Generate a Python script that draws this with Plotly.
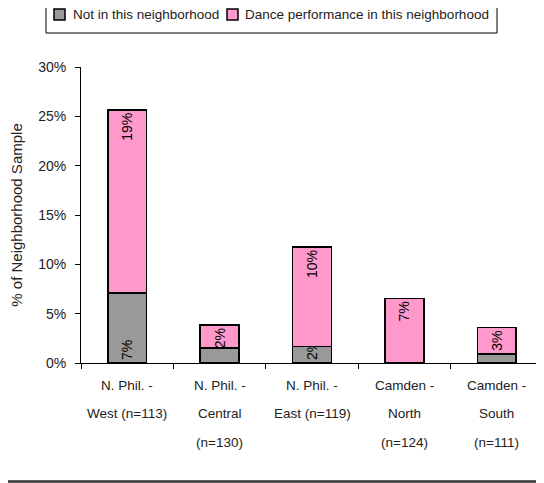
import plotly.graph_objects as go

categories = ["West", "Central", "East", "North", "South"]
label_lines = [
    ["N. Phil. -", "West (n=113)"],
    ["N. Phil. -", "Central", "(n=130)"],
    ["N. Phil. -", "East (n=119)"],
    ["Camden -", "North", "(n=124)"],
    ["Camden -", "South", "(n=111)"],
]
series_names = ["Not in this neighborhood", "Dance performance in this neighborhood"]
series_colors = ["#999999", "#FF99CC"]
not_here = [7.08, 1.54, 1.68, 0.0, 0.90]
dance_here = [18.58, 2.31, 10.08, 6.55, 2.70]
not_here_labels = ["7%", "", "2%", "", ""]
dance_here_labels = ["19%", "2%", "10%", "7%", "3%"]
y_ticks = [0, 5, 10, 15, 20, 25, 30]

FONT = "Liberation Sans, Arial, sans-serif"
TXT = "#222222"

# figure geometry (px)
W, H = 544, 483
ML, MT, PW, PH = 73, 59, 462, 296
MR, MB = W - ML - PW, H - MT - PH


def px_x(fx):
    return (fx - ML) / PW


def px_y(fy):
    return (MT + PH - fy) / PH


fig = go.Figure()
fig.add_trace(go.Bar(
    x=categories, y=not_here, name=series_names[0],
    marker=dict(color=series_colors[0], line=dict(color="black", width=1.5)),
    text=not_here_labels, textposition="inside", insidetextanchor="start",
    textangle=-90, constraintext="none",
    textfont=dict(family=FONT, size=14, color="black"),
    width=0.42,
))
fig.add_trace(go.Bar(
    x=categories, y=dance_here, name=series_names[1],
    marker=dict(color=series_colors[1], line=dict(color="black", width=1.5)),
    text=dance_here_labels, textposition="inside", insidetextanchor="end",
    textangle=-90, constraintext="none",
    textfont=dict(family=FONT, size=14, color="black"),
    width=0.42,
))

# category labels (multi-line with wide line spacing)
for cat, lines in zip(categories, label_lines):
    for i, ln in enumerate(lines):
        fig.add_annotation(x=cat, y=0, xref="x", yref="paper", text=ln,
                           showarrow=False, yanchor="middle", yshift=-22 - 28.5 * i,
                           font=dict(family=FONT, size=13.5, color=TXT))

# legend box drawn in the top margin
fig.add_shape(type="rect", xref="paper", yref="paper",
              x0=px_x(38), x1=px_x(489), y0=px_y(25), y1=px_y(-9),
              line=dict(color="black", width=1), fillcolor="white")
for name, color, sq_left, txt_left in zip(series_names, series_colors, [46, 219], [63, 235]):
    fig.add_shape(type="rect", xref="paper", yref="paper",
                  x0=px_x(sq_left), x1=px_x(sq_left + 11), y0=px_y(12), y1=px_y(1),
                  line=dict(color="black", width=1.5), fillcolor=color)
    fig.add_annotation(x=px_x(txt_left), y=px_y(6.5), xref="paper", yref="paper",
                       text=name, showarrow=False, xanchor="left", yanchor="middle",
                       font=dict(family=FONT, size=13.5, color=TXT))

# bottom frame line
fig.add_shape(type="line", xref="paper", yref="paper", x0=px_x(-10), x1=px_x(W + 10),
              y0=px_y(473.5), y1=px_y(473.5),
              line=dict(color="#333333", width=2.5))

fig.update_layout(
    width=W, height=H,
    margin=dict(l=ML, r=MR, t=MT, b=MB),
    paper_bgcolor="white", plot_bgcolor="white",
    barmode="stack",
    showlegend=False,
    font=dict(family=FONT, size=13.5, color=TXT),
)
fig.update_xaxes(type="category", showline=True, linecolor="black", linewidth=1,
                 ticks="outside", ticklen=5, tickcolor="black", tickson="boundaries",
                 showticklabels=False, showgrid=False, range=[-0.5, 4.5],
                 automargin=False)
fig.update_yaxes(range=[0, 30], tickvals=y_ticks, ticktext=[f"{v}%" for v in y_ticks],
                 showline=True, linecolor="black", linewidth=1,
                 ticks="outside", ticklen=5, tickcolor="black",
                 showgrid=False, zeroline=False, ticklabelstandoff=6,
                 tickfont=dict(family=FONT, size=14, color=TXT),
                 automargin=False,
                 title=dict(text="% of Neighborhood Sample", standoff=14,
                            font=dict(family=FONT, size=15, color=TXT)))

fig.write_html("out.html")
